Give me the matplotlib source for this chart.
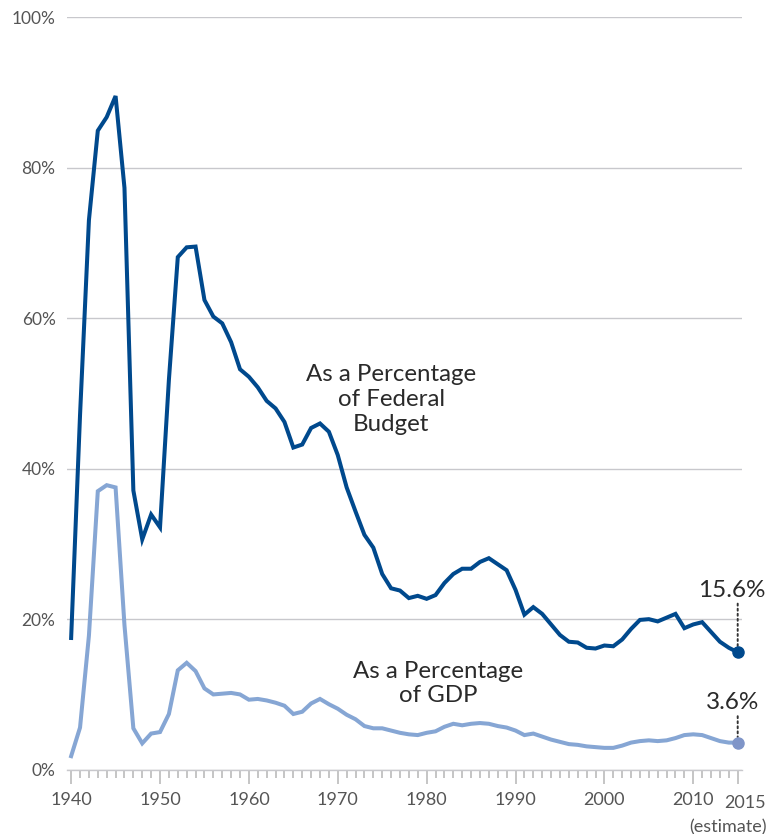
import matplotlib
matplotlib.use("Agg")
import matplotlib.pyplot as plt
from matplotlib.ticker import MultipleLocator, FixedLocator

plt.rcParams['font.family'] = ['Lato', 'DejaVu Sans']

years = list(range(1940, 2016))

# national defense outlays, % of total federal outlays
pct_budget = [17.5, 47.1, 73.0, 84.9, 86.7, 89.5, 77.3, 37.1, 30.6, 33.9,
              32.2, 51.8, 68.1, 69.4, 69.5, 62.4, 60.2, 59.3, 56.8, 53.2,
              52.2, 50.8, 49.0, 48.0, 46.2, 42.8, 43.2, 45.4, 46.0, 44.9,
              41.8, 37.5, 34.3, 31.2, 29.5, 26.0, 24.1, 23.8, 22.8, 23.1,
              22.7, 23.2, 24.8, 26.0, 26.7, 26.7, 27.6, 28.1, 27.3, 26.5,
              23.9, 20.6, 21.6, 20.7, 19.3, 17.9, 17.0, 16.9, 16.2, 16.1,
              16.5, 16.4, 17.3, 18.7, 19.9, 20.0, 19.7, 20.2, 20.7, 18.8,
              19.3, 19.6, 18.3, 17.0, 16.2, 15.6]

# national defense outlays, % of GDP
pct_gdp = [1.8, 5.6, 17.8, 37.0, 37.8, 37.5, 19.2, 5.5, 3.5, 4.8,
           5.0, 7.4, 13.2, 14.2, 13.1, 10.8, 10.0, 10.1, 10.2, 10.0,
           9.3, 9.4, 9.2, 8.9, 8.5, 7.4, 7.7, 8.8, 9.4, 8.7,
           8.1, 7.3, 6.7, 5.8, 5.5, 5.5, 5.2, 4.9, 4.7, 4.6,
           4.9, 5.1, 5.7, 6.1, 5.9, 6.1, 6.2, 6.1, 5.8, 5.6,
           5.2, 4.6, 4.8, 4.4, 4.0, 3.7, 3.4, 3.3, 3.1, 3.0,
           2.9, 2.9, 3.2, 3.6, 3.8, 3.9, 3.8, 3.9, 4.2, 4.6,
           4.7, 4.6, 4.2, 3.8, 3.6, 3.6]

decades = [1940, 1950, 1960, 1970, 1980, 1990, 2000, 2010]
y_ticks = [0, 20, 40, 60, 80, 100]

dark = '#00498d'
light = '#86a6d4'
grid_col = '#c8c8cc'
txt_col = '#2a2a2a'
tick_col = '#555555'

fig = plt.figure(figsize=(7.75, 8.34), dpi=100)
W, H = 775, 834
ax = fig.add_axes([66.7 / W, 1 - 769.7 / H, (741.7 - 66.7) / W, (769.7 - 17) / H])

ax.plot(years, pct_budget, color=dark, lw=2.9, solid_joinstyle='miter', zorder=3, clip_on=False)
ax.plot(years, pct_gdp, color=light, lw=2.9, solid_joinstyle='miter', zorder=3, clip_on=False)
ax.plot(years[-1], pct_budget[-1], 'o', color=dark, ms=8, zorder=4, clip_on=False)
ax.plot(years[-1], pct_gdp[-1], 'o', color='#7f95c8', ms=8, zorder=4, clip_on=False)

ax.set_xlim(1939.5, 2015.45)
ax.set_ylim(0, 100)

for s in ['top', 'right', 'left']:
    ax.spines[s].set_visible(False)
ax.spines['bottom'].set_color(grid_col)
ax.spines['bottom'].set_linewidth(1)

ax.set_yticks(y_ticks)
ax.set_yticklabels([f'{v}%' for v in y_ticks])
ax.yaxis.grid(True, color=grid_col, lw=1)
ax.set_axisbelow(True)
ax.tick_params(axis='y', length=0, pad=8, labelsize=12.5, labelcolor=tick_col)

ax.xaxis.set_major_locator(FixedLocator(decades + [2015]))
ax.xaxis.set_minor_locator(MultipleLocator(1))
ax.set_xticklabels([str(d) for d in decades] + [''])
ax.tick_params(axis='x', which='major', length=10, width=1.2, color='#bbbbbb',
               pad=6, labelsize=13, labelcolor=tick_col)
ax.tick_params(axis='x', which='minor', length=5.5, width=1.2, color='#bbbbbb')

# 2015 label, shifted like the original
ax.text(2015.8, -3.4, '2015', ha='center', va='top',
        fontsize=13, color=tick_col, clip_on=False)
ax.text(2013.9, -6.6, '(estimate)', ha='center', va='top',
        fontsize=13, color=tick_col, clip_on=False)

ax.text(1976.0, 49.2, 'As a Percentage\nof Federal\nBudget', ha='center', va='center',
        fontsize=17.3, color=txt_col, linespacing=1.22)
ax.text(1981.3, 11.5, 'As a Percentage\nof GDP', ha='center', va='center',
        fontsize=17.3, color=txt_col, linespacing=1.18)

# end-point call-outs: value text plus a vertical dotted leader
dots = dict(arrowstyle='-', linestyle=(0, (1, 1.6)), color='#333333', lw=1.4, shrinkA=0, shrinkB=4)
for val, rise in [(pct_budget[-1], 35), (pct_gdp[-1], 19)]:
    ax.annotate('', xy=(years[-1], val), xytext=(0, rise), textcoords='offset points',
                arrowprops=dots)
    ax.annotate(f'{val}%', xy=(years[-1], val), xytext=(-4, rise + 2), textcoords='offset points',
                ha='center', va='bottom', fontsize=17.5, color=txt_col)

fig.savefig('out.png', dpi=100)
